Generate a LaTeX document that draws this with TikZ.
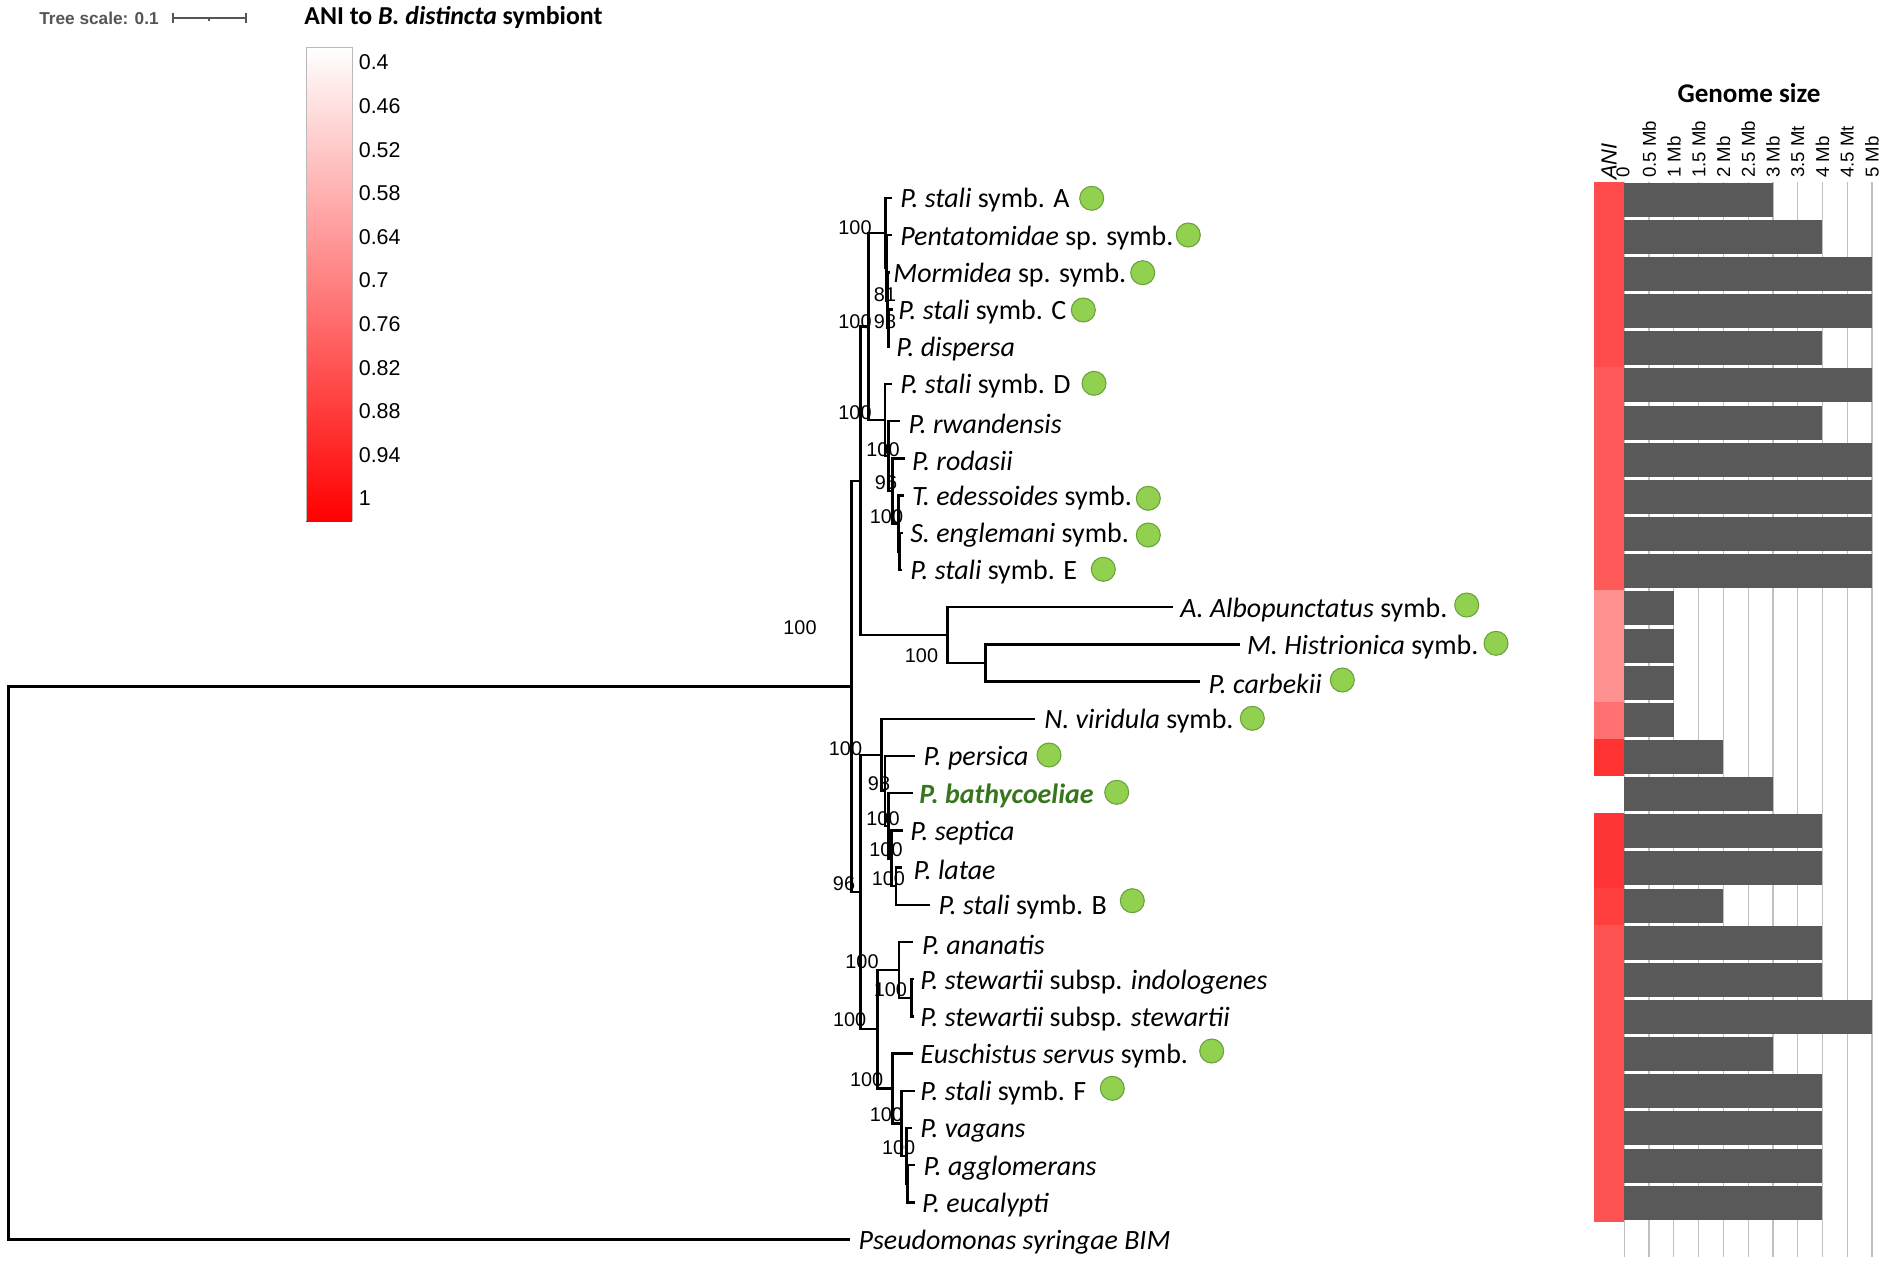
\documentclass[tikz,border=0pt]{standalone}
\usepackage{fontspec}
\setmainfont{Carlito}
\newfontfamily\arialf{Liberation Sans}
\definecolor{barc}{RGB}{89,89,89}
\definecolor{gridc}{RGB}{192,192,192}
\definecolor{dotf}{RGB}{146,208,80}
\definecolor{dotd}{RGB}{104,162,58}
\definecolor{bathc}{RGB}{56,118,29}
\definecolor{scalec}{RGB}{85,85,85}
\begin{document}
\begin{tikzpicture}[x=0.02cm,y=-0.02cm,
  br/.style={line width=1.4pt},
  leaf/.style={anchor=west, inner sep=0pt, yshift=-0.05cm, font=\fontsize{15.9}{18}\selectfont},
  bs/.style={inner sep=0pt, font=\arialf\fontsize{11.3}{13}\selectfont},
  dot/.style={circle, fill=dotf, draw=dotd, line width=0.6pt, minimum size=0.48cm, inner sep=0pt},
  axl/.style={rotate=90, anchor=west, inner sep=0pt, font=\arialf\fontsize{10.6}{12}\selectfont},
  cbl/.style={anchor=west, inner sep=0pt, font=\arialf\fontsize{12.2}{14}\selectfont}
]
\useasboundingbox (0,0) rectangle (1902,1264);

% ---------- header: tree scale ----------
\node[anchor=west, inner sep=0pt, text=scalec, font=\arialf\bfseries\fontsize{9.8}{12}\selectfont] (ts) at (39,18) {Tree scale: 0.1};
\coordinate (sb1) at (173,18);
\coordinate (sb2) at (246,18);
\draw[scalec, line width=0.8pt] (sb1) -- (sb2);
\draw[scalec, line width=0.8pt] (173,13) -- (173,23) (246,13) -- (246,23) (209,18) -- (209,21);

% ---------- ANI legend ----------
\node[anchor=west, inner sep=0pt, font=\bfseries\fontsize{14.7}{17}\selectfont] (anititle) at (304,17) {ANI to \textit{B. distincta} symbiont};
\shade[top color=white, bottom color=red] (306,47) rectangle (352,521);
\draw[gray!55, line width=0.5pt] (306,521) -- (306,47) -- (352,47) -- (352,521);
\foreach \k/\t in {0/0.4,1/0.46,2/0.52,3/0.58,4/0.64,5/0.7,6/0.76,7/0.82,8/0.88,9/0.94,10/1}
  \node[cbl] (cb\k) at (358.5,{62.5+43.6*\k}) {\t};

% ---------- genome size panel ----------
\node[inner sep=0pt, font=\bfseries\fontsize{15.4}{18}\selectfont] (gs) at (1749,93) {Genome size};
\node[rotate=90, anchor=west, inner sep=0pt, font=\arialf\itshape\fontsize{12.5}{14}\selectfont] (anih) at (1609,180) {ANI};
\node[axl] (ax0) at (1623,178) {0};
\foreach \k/\t in {1/0.5 Mb,2/1 Mb,3/1.5 Mb,4/2 Mb,5/2.5 Mb,6/3 Mb,7/3.5 Mt,8/4 Mb,9/4.5 Mt,10/5 Mb}
  \node[axl] (ax\k) at ({1624.3+24.77*\k},178) {\t};
\foreach \k in {0,...,10}
  \draw[gridc, line width=0.7pt] ({1624.3+24.77*\k},182) -- ({1624.3+24.77*\k},1257);
% ANI cells
\foreach \i/\c in {0/75,1/75,2/75,3/75,4/75,5/90,6/90,7/90,8/90,9/90,10/90,11/145,12/145,13/145,14/112,15/50,17/52,18/52,19/62,20/82,21/82,22/82,23/82,24/82,25/82,26/82,27/82}{
  \definecolor{anic}{RGB}{255,\c,\c}
  \fill[anic] (1593.7,{181.7+37.15*\i}) rectangle (1624.3,{181.7+37.15*(\i+1)});
}
% bars
\foreach \i/\v in {0/3,1/4,2/5,3/5,4/4,5/5,6/4,7/5,8/5,9/5,10/5,11/1,12/1,13/1,14/1,15/2,16/3,17/4,18/4,19/2,20/4,21/4,22/5,23/3,24/4,25/4,26/4,27/4}
  \fill[barc] (1624.3,{182.7+37.15*\i}) rectangle ({1624.3+49.54*\v},{216.7+37.15*\i});

% ---------- tree coordinates ----------
\coordinate (root) at (8.5,963);
\coordinate (N1) at (851.7,686.4);
\coordinate (Y) at (860.7,480.8);
\coordinate (P) at (868.3,326.5);
\coordinate (U) at (885.7,232.9);
\coordinate (V) at (886.5,267.8);
\coordinate (W) at (887.5,300.3);
\coordinate (X) at (888.5,328.2);
\coordinate (Q) at (885,420.1);
\coordinate (R) at (888.5,456.1);
\coordinate (S) at (892.5,491);
\coordinate (T) at (898.3,523.5);
\coordinate (T2) at (899.5,551.4);
\coordinate (Z) at (947.7,635.1);
\coordinate (Z2) at (985.7,663);
\coordinate (N2) at (860.7,892);
\coordinate (N3) at (881.7,754.8);
\coordinate (N4) at (885,790.9);
\coordinate (N5) at (888.3,825.8);
\coordinate (N6) at (891.7,858.3);
\coordinate (N7) at (896,886.2);
\coordinate (N8) at (877.3,1029.2);
\coordinate (N9) at (899,969.9);
\coordinate (N10) at (911.7,997.8);
\coordinate (N11) at (892.3,1088.5);
\coordinate (N12) at (901.7,1123.4);
\coordinate (N13) at (906.7,1155.9);
\coordinate (N14) at (907.7,1183.8);
% leaf tips
\coordinate (tA) at (892,198);
\coordinate (tPe) at (892,235.2);
\coordinate (tMo) at (889.5,272.4);
\coordinate (tC) at (893,309.6);
\coordinate (tDi) at (890,346.8);
\coordinate (tD) at (891.7,384);
\coordinate (tRw) at (900,421.2);
\coordinate (tRo) at (905,458.4);
\coordinate (tTe) at (904,495.6);
\coordinate (tSe) at (903,532.8);
\coordinate (tE) at (902,570);
\coordinate (tAl) at (1173.3,607.2);
\coordinate (tMH) at (1240,644.4);
\coordinate (tCa) at (1200,681.6);
\coordinate (tNv) at (1035,718.8);
\coordinate (tPp) at (915,756);
\coordinate (tBa) at (912.7,793.2);
\coordinate (tSp) at (902.7,830.4);
\coordinate (tLa) at (901.7,867.6);
\coordinate (tB) at (930,904.8);
\coordinate (tAn) at (912.7,942);
\coordinate (tIn) at (914,979.2);
\coordinate (tSt) at (914,1016.4);
\coordinate (tEu) at (913.3,1053.6);
\coordinate (tF) at (915,1090.8);
\coordinate (tVa) at (911.7,1128);
\coordinate (tAg) at (915,1165.2);
\coordinate (tEc) at (915,1202.4);
\coordinate (tPs) at (850,1239.6);

% ---------- branches ----------
\foreach \p/\c in {root/N1,root/tPs,N1/Y,N1/N2,Y/P,Y/Z,P/U,P/Q,U/tA,U/V,V/tPe,V/W,W/tMo,W/X,X/tC,X/tDi,
  Q/tD,Q/R,R/tRw,R/S,S/tRo,S/T,T/tTe,T/T2,T2/tSe,T2/tE,Z/tAl,Z/Z2,Z2/tMH,Z2/tCa,
  N2/N3,N2/N8,N3/tNv,N3/N4,N4/tPp,N4/N5,N5/tBa,N5/N6,N6/tSp,N6/N7,N7/tLa,N7/tB,
  N8/N9,N8/N11,N9/tAn,N9/N10,N10/tIn,N10/tSt,N11/tEu,N11/N12,N12/tF,N12/N13,N13/tVa,N13/N14,N14/tAg,N14/tEc}
  \draw[br] (\p) |- (\c);

% ---------- leaf labels ----------
\node[leaf] (lA) at (900,198) {\textit{P. stali} symb. A};
\node[leaf] (lPe) at (900,235.2) {\textit{Pentatomidae} sp. symb.};
\node[leaf] (lMo) at (893,272.4) {\textit{Mormidea} sp. symb.};
\node[leaf] (lC) at (898,309.6) {\textit{P. stali} symb. C};
\node[leaf] (lDi) at (896,346.8) {\textit{P. dispersa}};
\node[leaf] (lD) at (900,384) {\textit{P. stali} symb. D};
\node[leaf] (lRw) at (908.3,421.2) {\textit{P. rwandensis}};
\node[leaf] (lRo) at (911.7,458.4) {\textit{P. rodasii}};
\node[leaf] (lTe) at (911.7,495.6) {\textit{T. edessoides} symb.};
\node[leaf] (lSe) at (910,532.8) {\textit{S. englemani} symb.};
\node[leaf] (lE) at (910,570) {\textit{P. stali} symb. E};
\node[leaf] (lAl) at (1180,607.2) {\textit{A. Albopunctatus} symb.};
\node[leaf] (lMH) at (1246.7,644.4) {\textit{M. Histrionica} symb.};
\node[leaf] (lCa) at (1208.3,681.6) {\textit{P. carbekii}};
\node[leaf] (lNv) at (1044,718.8) {\textit{N. viridula} symb.};
\node[leaf] (lPp) at (923.3,756) {\textit{P. persica}};
\node[leaf, text=bathc] (lBa) at (919,793.2) {\bfseries\itshape P. bathycoeliae};
\node[leaf] (lSp) at (910,830.4) {\textit{P. septica}};
\node[leaf] (lLa) at (913.3,867.6) {\textit{P. latae}};
\node[leaf] (lB) at (938.3,904.8) {\textit{P. stali} symb. B};
\node[leaf] (lAn) at (921.7,942) {\textit{P. ananatis}};
\node[leaf] (lIn) at (920,979.2) {\textit{P. stewartii} subsp. \textit{indologenes}};
\node[leaf] (lSt) at (920,1016.4) {\textit{P. stewartii} subsp. \textit{stewartii}};
\node[leaf] (lEu) at (920,1053.6) {\textit{Euschistus servus} symb.};
\node[leaf] (lF) at (920,1090.8) {\textit{P. stali} symb. F};
\node[leaf] (lVa) at (920,1128) {\textit{P. vagans}};
\node[leaf] (lAg) at (923.3,1165.2) {\textit{P. agglomerans}};
\node[leaf] (lEc) at (921.7,1202.4) {\textit{P. eucalypti}};
\node[leaf] (lPs) at (858.3,1239.6) {\textit{Pseudomonas syringae BIM}};

% ---------- symbiont dots ----------
\node[dot] (dA) at (1091.7,198.3) {};
\node[dot] (dPe) at (1188.3,235) {};
\node[dot] (dMo) at (1142.7,272.7) {};
\node[dot] (dC) at (1083.3,310) {};
\node[dot] (dD) at (1094,383.3) {};
\node[dot] (dTe) at (1148.3,498.3) {};
\node[dot] (dSe) at (1148.3,535) {};
\node[dot] (dE) at (1103.3,569.3) {};
\node[dot] (dAl) at (1466.7,605) {};
\node[dot] (dMH) at (1496,643.3) {};
\node[dot] (dCa) at (1342.3,680) {};
\node[dot] (dNv) at (1252.3,718.3) {};
\node[dot] (dPp) at (1049,755) {};
\node[dot] (dBa) at (1116.7,792.3) {};
\node[dot] (dB) at (1132.3,900.7) {};
\node[dot] (dEu) at (1211.7,1051) {};
\node[dot] (dF) at (1112.3,1088.3) {};

% ---------- bootstrap values ----------
\node[bs] (b1) at (855,228) {100};
\node[bs] (b2) at (885,295) {81};
\node[bs] (b3) at (855,321.7) {100};
\node[bs] (b4) at (885,321.7) {98};
\node[bs] (b5) at (855,413) {100};
\node[bs] (b6) at (883,450) {100};
\node[bs] (b7) at (886,483) {96};
\node[bs] (b8) at (886.5,516.7) {100};
\node[bs] (b9) at (800,628) {100};
\node[bs] (b10) at (921.5,655.7) {100};
\node[bs] (b11) at (845.5,748.3) {100};
\node[bs] (b12) at (879,783.3) {98};
\node[bs] (b13) at (883,818.3) {100};
\node[bs] (b14) at (886,850) {100};
\node[bs] (b15) at (888.3,878.3) {100};
\node[bs] (b16) at (844,883.3) {96};
\node[bs] (b17) at (862,961.7) {100};
\node[bs] (b18) at (890.3,989.3) {100};
\node[bs] (b19) at (849.7,1020) {100};
\node[bs] (b20) at (866.7,1080) {100};
\node[bs] (b21) at (886.3,1115) {100};
\node[bs] (b22) at (898.7,1147.3) {100};
\end{tikzpicture}
\end{document}
